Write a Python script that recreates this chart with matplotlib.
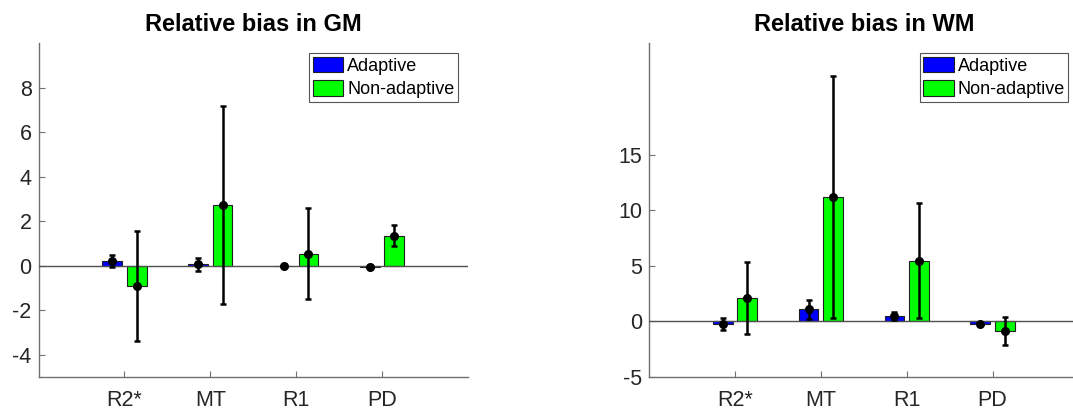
import matplotlib
matplotlib.use("Agg")
import matplotlib.pyplot as plt
import numpy as np

plt.rcParams['font.family'] = ['Liberation Sans', 'DejaVu Sans']

categories = ["R2*", "MT", "R1", "PD"]
series_names = ["Adaptive", "Non-adaptive"]

gm_adaptive = [0.20, 0.07, 0.00, -0.03]
gm_adaptive_err = [0.27, 0.28, 0.07, 0.05]
gm_nonadaptive = [-0.90, 2.73, 0.55, 1.36]
gm_nonadaptive_err = [2.47, 4.45, 2.06, 0.48]

wm_adaptive = [-0.23, 1.08, 0.48, -0.24]
wm_adaptive_err = [0.50, 0.83, 0.38, 0.10]
wm_nonadaptive = [2.10, 11.17, 5.47, -0.84]
wm_nonadaptive_err = [3.25, 10.90, 5.20, 1.26]

gm_yticks = [-4, -2, 0, 2, 4, 6, 8]
wm_yticks = [-5, 0, 5, 10, 15]

colors = ["#0000ff", "#00ff00"]
spine_col = "#707070"

fig = plt.figure(figsize=(10.73, 4.09), dpi=100)
ax1 = fig.add_axes([0.036, 0.078, 0.400, 0.816])
ax2 = fig.add_axes([0.605, 0.078, 0.400, 0.816])


def draw(ax, a, ae, n, ne, title, ylim, yticks):
    x = np.arange(1, len(categories) + 1)
    off = 0.143
    w = 0.229
    for vals, errs, dx, c, lab in [(a, ae, -off, colors[0], series_names[0]),
                                   (n, ne, off, colors[1], series_names[1])]:
        ax.bar(x + dx, vals, width=w, color=c, edgecolor="#202020",
               linewidth=0.8, label=lab, zorder=2)
        ax.errorbar(x + dx, vals, yerr=errs, fmt='o', color='black',
                    markersize=5.5, elinewidth=1.8, capsize=2.5, capthick=1.8,
                    zorder=4)
    ax.axhline(0, color="#505050", linewidth=1.0, zorder=3)
    ax.set_xlim(0, 5)
    ax.set_ylim(*ylim)
    ax.set_xticks(x)
    ax.set_xticklabels(categories)
    ax.set_yticks(yticks)
    ax.set_yticklabels([str(t) for t in yticks])
    for s in ["top", "right"]:
        ax.spines[s].set_visible(False)
    for s in ["left", "bottom"]:
        ax.spines[s].set_color(spine_col)
        ax.spines[s].set_linewidth(1.0)
    ax.tick_params(direction='in', length=4.5, width=0.8, color=spine_col,
                   labelsize=15.5, labelcolor="#262626")
    ax.tick_params(axis='x', pad=9)
    ax.tick_params(axis='y', pad=5)
    ax.set_title(title, fontsize=17, fontweight='bold', pad=9)
    leg = ax.legend(loc='upper right', fontsize=13, frameon=True,
                    fancybox=False, edgecolor="#555555", framealpha=1,
                    handlelength=1.7, handleheight=0.95, handletextpad=0.2,
                    borderpad=0.2, labelspacing=0.3, borderaxespad=0.55)
    leg.get_frame().set_linewidth(0.8)
    for p in leg.get_patches():
        p.set_edgecolor("#202020")


draw(ax1, gm_adaptive, gm_adaptive_err, gm_nonadaptive, gm_nonadaptive_err,
     "Relative bias in GM", (-5, 10), gm_yticks)
draw(ax2, wm_adaptive, wm_adaptive_err, wm_nonadaptive, wm_nonadaptive_err,
     "Relative bias in WM", (-5, 25), wm_yticks)

fig.savefig("out.png", dpi=100)
